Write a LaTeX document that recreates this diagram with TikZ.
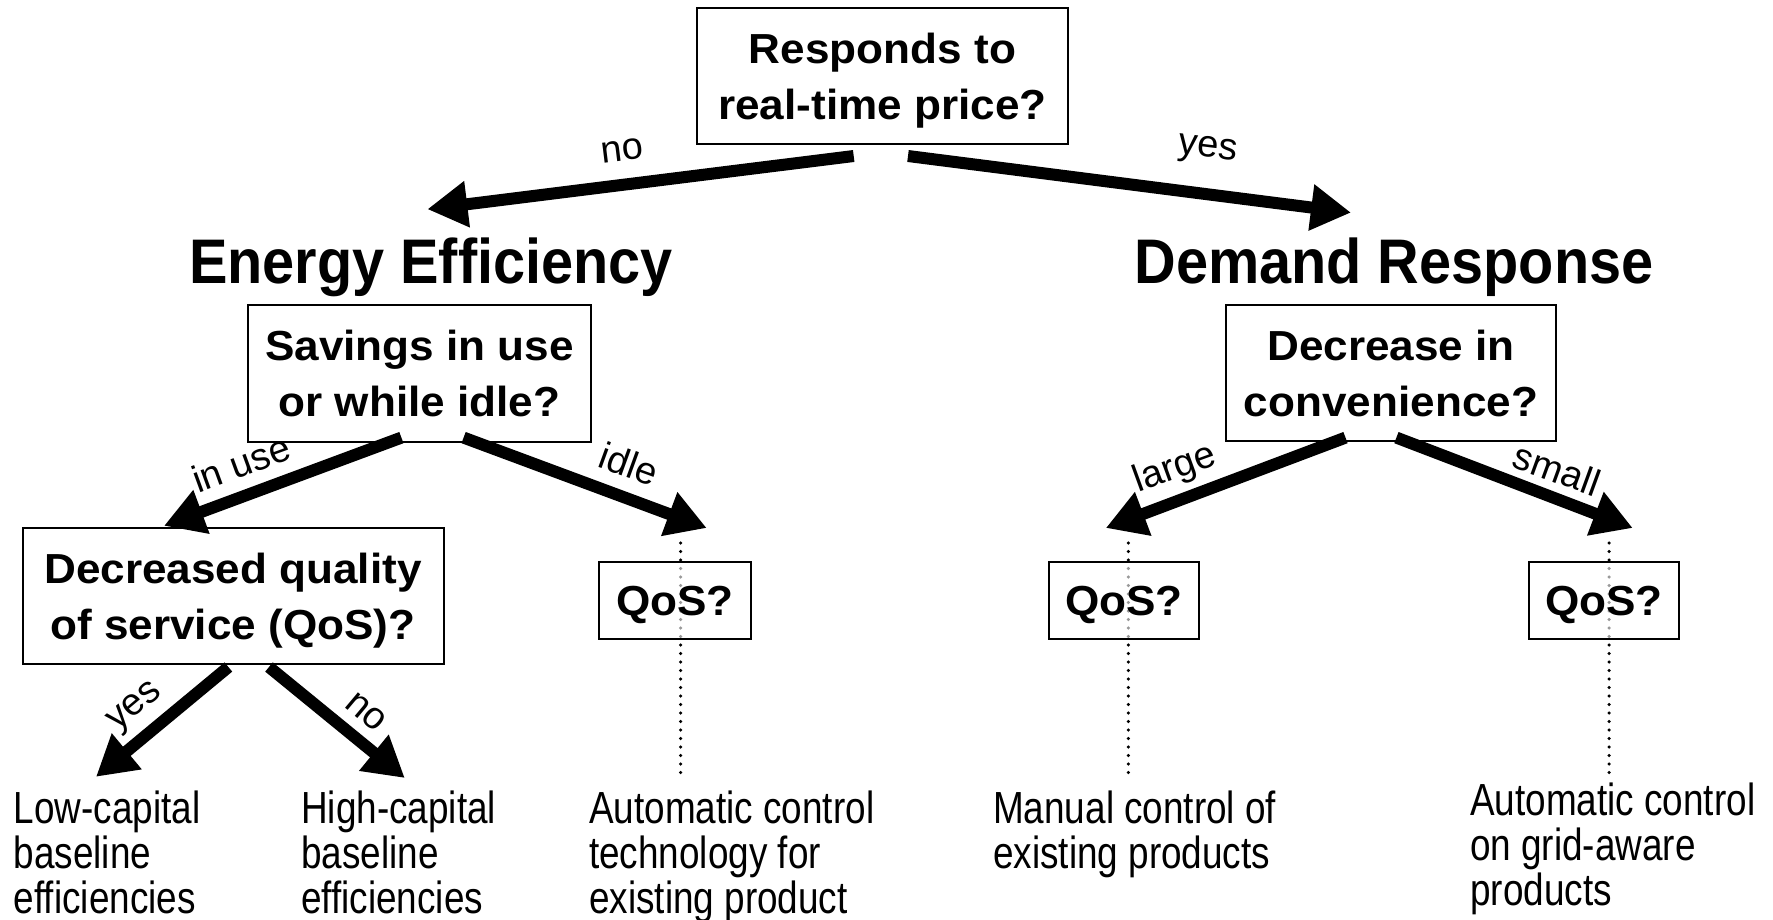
\documentclass[tikz,border=0pt]{standalone}
\usepackage{fontspec}
\usetikzlibrary{arrows.meta}
\newfontfamily\headfont[FakeStretch=0.915]{Liberation Sans}
\newfontfamily\qfont[FakeStretch=1.05]{Liberation Sans}
\newfontfamily\leaffont[FakeStretch=0.82]{Liberation Sans}
\newfontfamily\edgefont{Liberation Sans}
\tikzset{
  qbox/.style={draw, line width=2pt, fill=white, fill opacity=0.6, text opacity=1,
    align=center, inner sep=0pt, text depth=0pt,
    font=\qfont\bfseries\fontsize{42}{56}\selectfont},
  heading/.style={font=\headfont\bfseries\fontsize{63}{70}\selectfont, anchor=base, inner sep=0pt},
  % anchored at the baseline of the last line
  leaf/.style={font=\leaffont\fontsize{45}{45}\selectfont, align=left, anchor=base west, inner sep=0pt},
  branch/.style={line width=12pt, -{Triangle[length=40pt,width=44pt]}},
  elabel/.style={font=\edgefont\fontsize{38}{40}\selectfont, inner sep=0pt},
  dotline/.style={line width=3.5pt, line cap=round, dash pattern=on 0pt off 8.5pt}
}
\begin{document}
\begin{tikzpicture}[x=1pt,y=-1pt]
\useasboundingbox (0,0) rectangle (1773,919);

% arrow ends
\coordinate (noT) at (853.7,156);   \coordinate (noH) at (427.4,209.2);
\coordinate (yesT) at (908,156);    \coordinate (yesH) at (1351,212.6);
\coordinate (inuseT) at (401.4,437.6); \coordinate (inuseH) at (164,525.8);
\coordinate (idleT) at (463.6,437.6);  \coordinate (idleH) at (706.7,528);
\coordinate (lyesT) at (228.4,667);  \coordinate (lyesH) at (96,776.8);
\coordinate (lnoT) at (269,667);     \coordinate (lnoH) at (404.8,778);
\coordinate (largeT) at (1345.5,437.6); \coordinate (largeH) at (1105.8,528);
\coordinate (smallT) at (1396.4,437.6); \coordinate (smallH) at (1632.7,528);

% dotted leads through the QoS boxes
\coordinate (d1a) at (680.7,543);  \coordinate (d1b) at (680.7,778);
\coordinate (d2a) at (1128.4,543); \coordinate (d2b) at (1128.4,778);
\coordinate (d3a) at (1609,543);   \coordinate (d3b) at (1609,778);
\draw[dotline] (d1a) -- (d1b);
\draw[dotline] (d2a) -- (d2b);
\draw[dotline] (d3a) -- (d3b);

% question boxes
\node[qbox, minimum width=371pt, minimum height=136pt] (price) at (882.5,76) {Responds to\\real-time price?};
\node[qbox, minimum width=343pt, minimum height=137pt] (use) at (419.5,373.5) {Savings in use\\or while idle?};
\node[qbox, minimum width=421pt, minimum height=136pt] (qual) at (233,596) {Decreased quality\\of service (QoS)?};
\node[qbox, minimum width=330pt, minimum height=136pt] (conv) at (1391,373) {Decrease in\\convenience?};
\node[qbox, minimum width=152pt, minimum height=77pt] (qos1) at (675,600.5) {QoS?};
\node[qbox, minimum width=150pt, minimum height=77pt] (qos2) at (1124,600.5) {QoS?};
\node[qbox, minimum width=150pt, minimum height=77pt] (qos3) at (1604,600.5) {QoS?};

% headings
\node[heading] (ee) at (431,283) {Energy Efficiency};
\node[heading] (dr) at (1394,283) {Demand Response};

% branches
\draw[branch] (noT) -- (noH);
\draw[branch] (yesT) -- (yesH);
\draw[branch] (inuseT) -- (inuseH);
\draw[branch] (idleT) -- (idleH);
\draw[branch] (lyesT) -- (lyesH);
\draw[branch] (lnoT) -- (lnoH);
\draw[branch] (largeT) -- (largeH);
\draw[branch] (smallT) -- (smallH);

% branch labels
\node[elabel, rotate=7] (lno) at (622,151) {no};
\node[elabel, rotate=-7] (lyes) at (1207.6,151) {yes};
\node[elabel, rotate=20] (linuse) at (241,463) {in use};
\node[elabel, rotate=-20] (lidle) at (629,464) {idle};
\node[elabel, rotate=20] (llarge) at (1175,469) {large};
\node[elabel, rotate=-20] (lsmall) at (1557,469) {small};
\node[elabel, rotate=40] (lyes2) at (136,708) {yes};
\node[elabel, rotate=-40] (lno2) at (366,712) {no};

% outcomes
\node[leaf] (lowcap) at (13.6,913) {Low-capital\\baseline\\efficiencies};
\node[leaf] (highcap) at (301,913) {High-capital\\baseline\\efficiencies};
\node[leaf] (autotech) at (589,913) {Automatic control\\technology for\\existing product};
\node[leaf] (manual) at (993,868) {Manual control of\\existing products};
\node[leaf] (autogrid) at (1470,905) {Automatic control\\on grid-aware\\products};
\end{tikzpicture}
\end{document}
